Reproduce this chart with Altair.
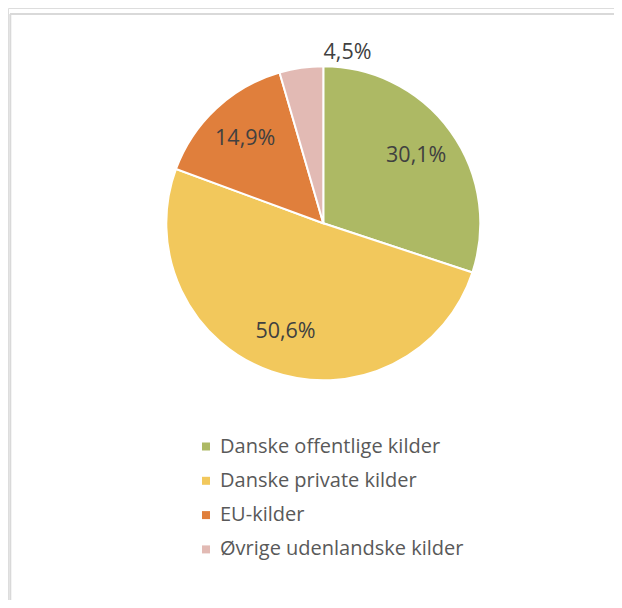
import altair as alt
import pandas as pd

categories = ["Danske offentlige kilder", "Danske private kilder", "EU-kilder", "Øvrige udenlandske kilder"]
shares = [30.1, 50.6, 14.9, 4.5]
labels = ["30,1%", "50,6%", "14,9%", "4,5%"]
colors = ["#ADB964", "#F2C85C", "#E07F3C", "#E2BAB4"]

W, H = 606, 592
CX, CY = 315.3, 215.3
R = 157

df = pd.DataFrame({"kategori": categories, "andel": shares, "label": labels, "ord": list(range(len(categories)))})

base = alt.Chart(df).encode(
    theta=alt.Theta("andel:Q", stack=True),
    order=alt.Order("ord:Q", sort="ascending"),
)

pie = base.mark_arc(radius=R, stroke="white", strokeWidth=2).encode(
    x=alt.value(CX),
    y=alt.value(CY),
    color=alt.Color(
        "kategori:N",
        scale=alt.Scale(domain=categories, range=colors),
        sort=categories,
        legend=alt.Legend(
            title=None,
            orient="none",
            legendX=188,
            legendY=428.5,
            symbolType="square",
            symbolSize=64,
            symbolStrokeWidth=0,
            labelFont="Open Sans",
            labelFontSize=20,
            labelColor="#595959",
            labelOffset=4,
            rowPadding=14.3,
            padding=0,
            labelLimit=400,
        ),
    ),
)

text = base.transform_calculate(
    lr=f"datum.andel < 5 ? {R} + 15 : {R} * 0.73"
).mark_text(font="Open Sans", fontSize=21.5, color="#404040", align="center", baseline="middle").encode(
    x=alt.value(CX),
    y=alt.value(CY),
    radius=alt.Radius("lr:Q", scale=None),
    text="label:N",
)

border_df = pd.DataFrame({"a": [0]})
top_line = alt.Chart(border_df).mark_rule(color="#D9D9D9", strokeWidth=2).encode(
    x=alt.value(2), x2=alt.value(W), y=alt.value(6)
)
left_line = alt.Chart(border_df).mark_rule(color="#D9D9D9", strokeWidth=2).encode(
    x=alt.value(2.3), y=alt.value(6), y2=alt.value(H)
)

chart = alt.layer(top_line, left_line, pie, text).properties(
    width=W, height=H,
    autosize=alt.AutoSizeParams(type="none"),
    padding=0,
).configure_view(stroke=None).configure(background="white")

chart.save("out.html", embed_options={"renderer": "svg", "actions": False})
